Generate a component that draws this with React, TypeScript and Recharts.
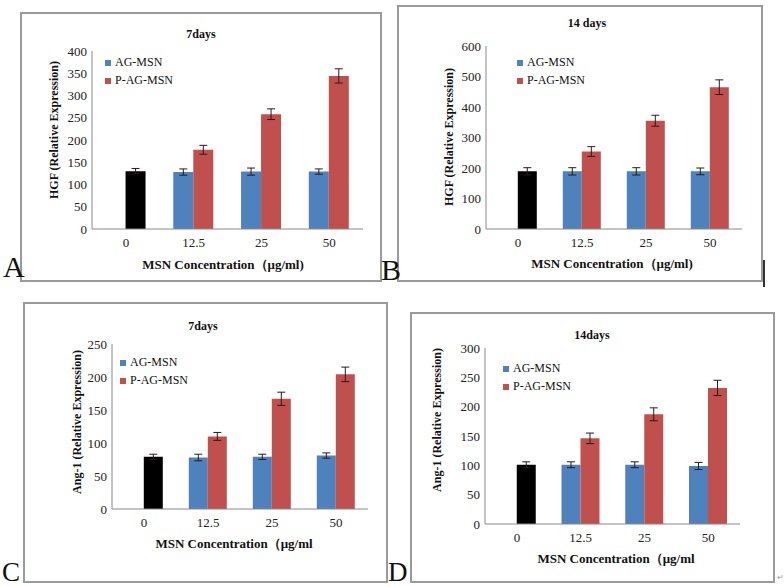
import { BarChart, Bar, XAxis, YAxis, ErrorBar, Cell, Legend } from 'recharts';

// ---------------------------------------------------------------------------
// Data
// ---------------------------------------------------------------------------

const categories = ['0', '12.5', '25', '50'];

// A — HGF, 7 days (control bar sits in the P-AG slot at 0, drawn black)
const hgf7Ag = [null, 128, 129, 129];
const hgf7AgErr = [null, 7, 8, 6];
const hgf7PAg = [130, 178, 258, 344];
const hgf7PAgErr = [6, 10, 12, 16];

// B — HGF, 14 days
const hgf14Ag = [null, 189, 189, 189];
const hgf14AgErr = [null, 12, 12, 11];
const hgf14PAg = [189, 254, 355, 465];
const hgf14PAgErr = [12, 16, 18, 24];

// C — Ang-1, 7 days
const ang7Ag = [null, 78, 79, 81];
const ang7AgErr = [null, 5, 4, 4];
const ang7PAg = [79, 110, 167, 204];
const ang7PAgErr = [4, 6, 10, 11];

// D — Ang-1, 14 days
const ang14Ag = [null, 101, 101, 99];
const ang14AgErr = [null, 5, 5, 6];
const ang14PAg = [101, 146, 187, 232];
const ang14PAgErr = [5, 9, 11, 13];

const BLUE = '#4F81BD';
const RED = '#C0504D';
const FONT = "'Liberation Serif', 'Times New Roman', serif";

interface Rect { x: number; y: number; w: number; h: number }
interface Plot { left: number; right: number; top: number; bottom: number }

interface PanelSpec {
  title: string;
  yLabel: string;
  xLabel: string;
  letter: string;
  ag: (number | null)[];
  agErr: (number | null)[];
  pag: number[];
  pagErr: number[];
  yMax: number;
  yTicks: number[];
  frame: Rect;
  plot: Plot;
  titlePos: [number, number];
  yLabelPos: [number, number];
  xLabelPos: [number, number];
  letterPos: [number, number];
  letterSize: number;
  legendPos: [number, number];
}

const panels: PanelSpec[] = [
  {
    title: '7days',
    yLabel: 'HGF (Relative Expression)',
    xLabel: 'MSN  Concentration（μg/ml)',
    letter: 'A',
    ag: hgf7Ag, agErr: hgf7AgErr, pag: hgf7PAg, pagErr: hgf7PAgErr,
    yMax: 400,
    yTicks: [0, 50, 100, 150, 200, 250, 300, 350, 400],
    frame: { x: 20, y: 12, w: 362, h: 270 },
    plot: { left: 92, right: 363, top: 51, bottom: 229 },
    titlePos: [201, 34],
    yLabelPos: [54, 130],
    xLabelPos: [223, 264],
    letterPos: [3, 256],
    letterSize: 30,
    legendPos: [105, 53],
  },
  {
    title: '14 days',
    yLabel: 'HGF (Relative Expression)',
    xLabel: 'MSN  Concentration（μg/ml)',
    letter: 'B',
    ag: hgf14Ag, agErr: hgf14AgErr, pag: hgf14PAg, pagErr: hgf14PAgErr,
    yMax: 600,
    yTicks: [0, 100, 200, 300, 400, 500, 600],
    frame: { x: 397, y: 5, w: 366, h: 277 },
    plot: { left: 486, right: 742, top: 46, bottom: 229 },
    titlePos: [587, 23],
    yLabelPos: [449, 137],
    xLabelPos: [612, 263],
    letterPos: [381, 259],
    letterSize: 30,
    legendPos: [517, 53],
  },
  {
    title: '7days',
    yLabel: 'Ang-1 (Relative Expression)',
    xLabel: 'MSN  Concentration（μg/ml',
    letter: 'C',
    ag: ang7Ag, agErr: ang7AgErr, pag: ang7PAg, pagErr: ang7PAgErr,
    yMax: 250,
    yTicks: [0, 50, 100, 150, 200, 250],
    frame: { x: 23, y: 302, w: 365, h: 281 },
    plot: { left: 112, right: 368, top: 344, bottom: 509 },
    titlePos: [203, 326],
    yLabelPos: [77, 422],
    xLabelPos: [234, 543],
    letterPos: [2, 561],
    letterSize: 27,
    legendPos: [120, 353],
  },
  {
    title: '14days',
    yLabel: 'Ang-1 (Relative Expression)',
    xLabel: 'MSN  Concentration（μg/ml',
    letter: 'D',
    ag: ang14Ag, agErr: ang14AgErr, pag: ang14PAg, pagErr: ang14PAgErr,
    yMax: 300,
    yTicks: [0, 50, 100, 150, 200, 250, 300],
    frame: { x: 410, y: 312, w: 365, h: 271 },
    plot: { left: 485, right: 740, top: 348, bottom: 524 },
    titlePos: [592, 335],
    yLabelPos: [437, 420],
    xLabelPos: [616, 558],
    letterPos: [388, 561],
    letterSize: 27,
    legendPos: [503, 359],
  },
];

const YW = 40;
const XH = 30;

function centered(x: number, y: number, extra: React.CSSProperties = {}): React.CSSProperties {
  return {
    position: 'absolute',
    left: x,
    top: y,
    transform: 'translate(-50%, -50%)',
    whiteSpace: 'nowrap',
    fontFamily: FONT,
    color: '#111',
    lineHeight: 1,
    ...extra,
  };
}

function Panel({ p }: { p: PanelSpec }) {
  const data = categories.map((c, i) => ({
    cat: c,
    ag: p.ag[i],
    agErr: p.agErr[i],
    pag: p.pag[i],
    pagErr: p.pagErr[i],
  }));
  const { frame, plot } = p;
  const margin = {
    top: plot.top - frame.y,
    right: frame.x + frame.w - plot.right,
    bottom: frame.y + frame.h - plot.bottom - XH,
    left: plot.left - frame.x - YW,
  };
  const tickStyle = { fontSize: 13, fill: '#222', fontFamily: FONT };

  return (
    <>
      <div
        style={{
          position: 'absolute',
          left: frame.x,
          top: frame.y,
          width: frame.w,
          height: frame.h,
          border: '2px solid #9a9a9a',
          boxSizing: 'border-box',
        }}
      />
      <div style={{ position: 'absolute', left: frame.x, top: frame.y, fontFamily: FONT }}>
        <BarChart
          width={frame.w}
          height={frame.h}
          data={data}
          margin={margin}
          barCategoryGap="20%"
          barGap={0}
          style={{ fontFamily: FONT }}
        >
          <XAxis
            dataKey="cat"
            height={XH}
            tickLine={false}
            tickSize={6}
            tickMargin={3}
            axisLine={{ stroke: '#888' }}
            tick={tickStyle}
          />
          <YAxis
            width={YW}
            domain={[0, p.yMax]}
            ticks={p.yTicks}
            interval={0}
            tickLine={false}
            tickSize={3}
            tickMargin={2}
            axisLine={{ stroke: '#888' }}
            tick={tickStyle}
          />
          {/* align center + middle keeps Recharts from reserving room for the legend */}
          <Legend
            layout="vertical"
            verticalAlign="middle"
            align="center"
            iconType="square"
            iconSize={6}
            wrapperStyle={{
              left: p.legendPos[0] - frame.x,
              top: p.legendPos[1] - frame.y,
              width: 'auto',
              fontSize: 12,
              lineHeight: '18px',
              fontFamily: FONT,
              textAlign: 'left',
            }}
            formatter={(v: string) => <span style={{ color: '#111', fontFamily: FONT }}>{v}</span>}
          />
          <Bar dataKey="ag" name="AG-MSN" fill={BLUE} isAnimationActive={false}>
            <ErrorBar dataKey="agErr" width={4} stroke="#2a1a1a" strokeWidth={1} />
          </Bar>
          <Bar dataKey="pag" name="P-AG-MSN" fill={RED} isAnimationActive={false}>
            {data.map((d, i) => (
              <Cell key={d.cat} fill={i === 0 ? '#000' : RED} />
            ))}
            <ErrorBar dataKey="pagErr" width={4} stroke="#2a1a1a" strokeWidth={1} />
          </Bar>
        </BarChart>
      </div>
      <div style={centered(p.titlePos[0], p.titlePos[1], { fontSize: 12, fontWeight: 'bold' })}>
        {p.title}
      </div>
      <div
        style={centered(p.yLabelPos[0], p.yLabelPos[1], {
          fontSize: 12,
          fontWeight: 'bold',
          transform: 'translate(-50%, -50%) rotate(-90deg)',
        })}
      >
        {p.yLabel}
      </div>
      <div style={centered(p.xLabelPos[0], p.xLabelPos[1], { fontSize: 13, fontWeight: 'bold' })}>
        {p.xLabel}
      </div>
      <div
        style={{
          position: 'absolute',
          left: p.letterPos[0],
          top: p.letterPos[1],
          fontFamily: FONT,
          fontSize: p.letterSize,
          lineHeight: '22px',
          color: '#111',
        }}
      >
        {p.letter}
      </div>
    </>
  );
}

export default function App() {
  return (
    <div
      style={{
        position: 'absolute',
        left: 0,
        top: 0,
        width: 784,
        height: 587,
        background: '#fff',
        overflow: 'hidden',
        fontFamily: FONT,
      }}
    >
      {panels.map((p) => (
        <Panel key={p.letter} p={p} />
      ))}
      {/* text cursor mark next to panel B */}
      <div style={{ position: 'absolute', left: 763, top: 260, width: 2, height: 27, background: '#333' }} />
      <div style={centered(780, 578, { fontSize: 8, color: '#999' })}>↵</div>
    </div>
  );
}
